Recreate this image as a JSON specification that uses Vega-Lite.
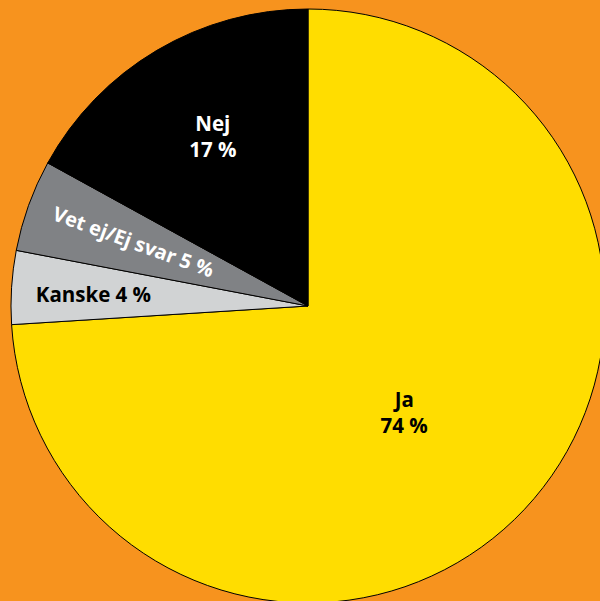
{
  "$schema": "https://vega.github.io/schema/vega-lite/v6.json",
  "autosize": "none",
  "width": 584,
  "height": 590,
  "padding": {"left": 16, "top": 11, "right": 0, "bottom": 0},
  "background": "#F7931E",
  "config": {"view": {"stroke": null}},
  "data": {
    "values": [
      {"idx": 1, "svar": "Ja", "pct": 74, "label": ["Ja", "74 %"]},
      {"idx": 2, "svar": "Kanske", "pct": 4, "label": "Kanske 4 %"},
      {"idx": 3, "svar": "Vet ej/Ej svar", "pct": 5, "label": "Vet ej/Ej svar 5 %"},
      {"idx": 4, "svar": "Nej", "pct": 17, "label": ["Nej", "17 %"]}
    ]
  },
  "encoding": {
    "theta": {"field": "pct", "type": "quantitative", "stack": true},
    "order": {"field": "idx", "type": "quantitative"}
  },
  "layer": [
    {
      "mark": {"type": "arc", "outerRadius": 297, "stroke": "#000000", "strokeWidth": 1},
      "encoding": {
        "color": {
          "field": "svar",
          "type": "nominal",
          "scale": {
            "domain": ["Ja", "Kanske", "Vet ej/Ej svar", "Nej"],
            "range": ["#FFDD00", "#D1D3D4", "#808285", "#000000"]
          },
          "legend": null
        }
      }
    },
    {
      "mark": {"type": "text", "radius": 132, "dy": 5, "font": "Open Sans", "fontWeight": "bold", "fontSize": 20.5, "fill": "#000000", "lineHeight": 26},
      "encoding": {
        "text": {"condition": {"test": "datum.svar === 'Ja'", "field": "label"}, "value": ""}
      }
    },
    {
      "mark": {"type": "text", "radius": 187, "dy": -20, "font": "Open Sans", "fontWeight": "bold", "fontSize": 20.5, "fill": "#FFFFFF", "lineHeight": 26},
      "encoding": {
        "text": {"condition": {"test": "datum.svar === 'Nej'", "field": "label"}, "value": ""}
      }
    },
    {
      "mark": {"type": "text", "radius": 215, "dy": 3, "font": "Open Sans", "fontWeight": "bold", "fontSize": 20.5, "fill": "#000000"},
      "encoding": {
        "text": {"condition": {"test": "datum.svar === 'Kanske'", "field": "label"}, "value": ""}
      }
    },
    {
      "mark": {"type": "text", "radius": 186, "angle": 20, "font": "Open Sans", "fontWeight": "bold", "fontSize": 20, "fill": "#FFFFFF"},
      "encoding": {
        "text": {"condition": {"test": "datum.svar === 'Vet ej/Ej svar'", "field": "label"}, "value": ""}
      }
    }
  ]
}
